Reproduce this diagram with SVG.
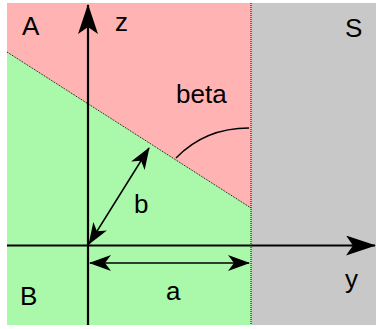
<svg xmlns="http://www.w3.org/2000/svg" width="376" height="329" viewBox="0 0 376 329">
<style>
text{font-family:"Liberation Sans",Arial,sans-serif;font-size:26px;fill:#000}
.ax{stroke:#000;stroke-width:2.2;fill:none}
.dim{stroke:#000;stroke-width:1.5;fill:none}
.dot{stroke:#000;stroke-width:1;stroke-dasharray:1,1;fill:none}
</style>
<defs>
<marker id="big" viewBox="0 0 30 20" refX="29" refY="10" markerWidth="30" markerHeight="20" markerUnits="userSpaceOnUse" orient="auto">
<path d="M0,0 L30,10 L0,20 L7,10 Z" fill="#000"/>
</marker>
<marker id="sm" viewBox="0 0 22 16" refX="21" refY="8" markerWidth="22" markerHeight="16" markerUnits="userSpaceOnUse" orient="auto-start-reverse">
<path d="M0,0 L22,8 L0,16 L6,8 Z" fill="#000"/>
</marker>
</defs>
<g id="regions">
<rect id="regionS" x="251" y="3" width="125" height="322" fill="#c8c8c8"/>
<polygon id="regionA" points="7,3 251,3 251,208 7,52" fill="#ffb3b3"/>
<polygon id="regionB" points="7,52 251,208 251,325 7,325" fill="#aaf8aa"/>
<line class="dot" x1="7" y1="52" x2="251" y2="208"/>
<line class="dot" x1="251" y1="3" x2="251" y2="325"/>
</g>
<g id="connectors">
<line class="ax" x1="88" y1="325" x2="88" y2="5" marker-end="url(#big)"/>
<line class="ax" x1="7" y1="245.5" x2="375" y2="245.5" marker-end="url(#big)"/>
<line class="dim" x1="90" y1="263" x2="249" y2="263" marker-start="url(#sm)" marker-end="url(#sm)"/>
<line class="dim" x1="89" y1="244" x2="149" y2="148" marker-start="url(#sm)" marker-end="url(#sm)"/>
<path class="dim" d="M176,158 Q205,128 249,128"/>
</g>
<g id="labels">
<text x="22" y="35">A</text>
<text x="115" y="31">z</text>
<text x="345" y="37">S</text>
<text x="176" y="103">beta</text>
<text x="134" y="213">b</text>
<text x="20" y="305">B</text>
<text x="166" y="300">a</text>
<text x="345" y="288">y</text>
</g>
</svg>
